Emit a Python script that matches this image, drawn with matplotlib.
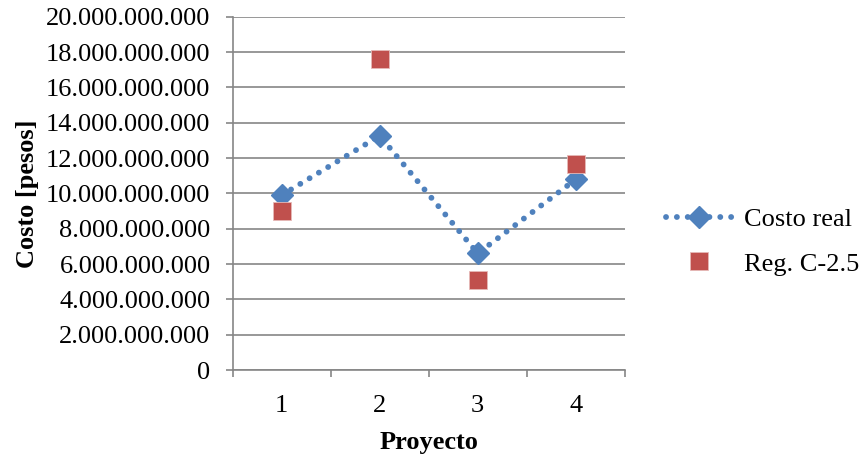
import matplotlib
matplotlib.use('Agg')
import matplotlib.pyplot as plt
from matplotlib.ticker import FuncFormatter, FixedLocator

# Project costs in pesos
proyectos = [1, 2, 3, 4]
costo_real = [9.90e9, 13.26e9, 6.60e9, 10.79e9]
reg_c25 = [9.02e9, 17.62e9, 5.08e9, 11.64e9]
y_ticks = [i * 2e9 for i in range(11)]

plt.rcParams['font.family'] = ['Liberation Serif', 'DejaVu Serif']
plt.rcParams['font.size'] = 19

grey = '#868686'
blue = '#4F81BD'
red = '#C0504D'

fig = plt.figure(figsize=(8.61, 4.55), dpi=100)
ax = fig.add_axes([0.2703, 0.1868, 0.4553, 0.7765])

ax.plot(proyectos, costo_real, color=blue, linewidth=4.2,
        linestyle=(0, (0.01, 1.85)), dash_capstyle='round',
        marker='D', markersize=11, markerfacecolor=blue, markeredgecolor=blue,
        label='Costo real', zorder=3)
ax.plot(proyectos, reg_c25, linestyle='none', marker='s', markersize=13.5,
        markerfacecolor=red, markeredgecolor='#E6B9B8', markeredgewidth=0.6,
        label='Reg. C-2.5', zorder=4)

ax.set_xlim(0.5, 4.5)
ax.set_ylim(0, 20e9)

# y axis with dotted thousands
ax.yaxis.set_major_locator(FixedLocator(y_ticks))
ax.yaxis.set_major_formatter(FuncFormatter(lambda v, p: f'{v:,.0f}'.replace(',', '.')))
ax.grid(axis='y', color=grey, linewidth=1.2)
ax.set_axisbelow(True)

# category ticks between projects, labels centered
ax.xaxis.set_major_locator(FixedLocator([0.5, 1.5, 2.5, 3.5, 4.5]))
ax.xaxis.set_major_formatter(FuncFormatter(lambda v, p: ''))
ax.xaxis.set_minor_locator(FixedLocator(proyectos))
ax.xaxis.set_minor_formatter(FuncFormatter(lambda v, p: f'{int(round(v))}'))
ax.tick_params(axis='x', which='major', length=5, width=1.2, color=grey, direction='out')
ax.tick_params(axis='x', which='minor', length=0, pad=18)
ax.tick_params(axis='y', length=5, width=1.2, color=grey, direction='out', pad=11)

for side in ['top', 'right']:
    ax.spines[side].set_visible(False)
for side in ['left', 'bottom']:
    ax.spines[side].set_color(grey)
    ax.spines[side].set_linewidth(1.2)

ax.set_ylabel('Costo [pesos]', fontweight='bold', labelpad=5)
ax.set_xlabel('Proyecto', fontweight='bold', labelpad=10)

ax.legend(loc='center left', bbox_to_anchor=(666 / 861, 0.469),
          bbox_transform=fig.transFigure, frameon=False, borderpad=0,
          borderaxespad=0, handlelength=2.5, handletextpad=0.45,
          labelspacing=0.8, numpoints=1)

fig.savefig('out.png', dpi=100)
